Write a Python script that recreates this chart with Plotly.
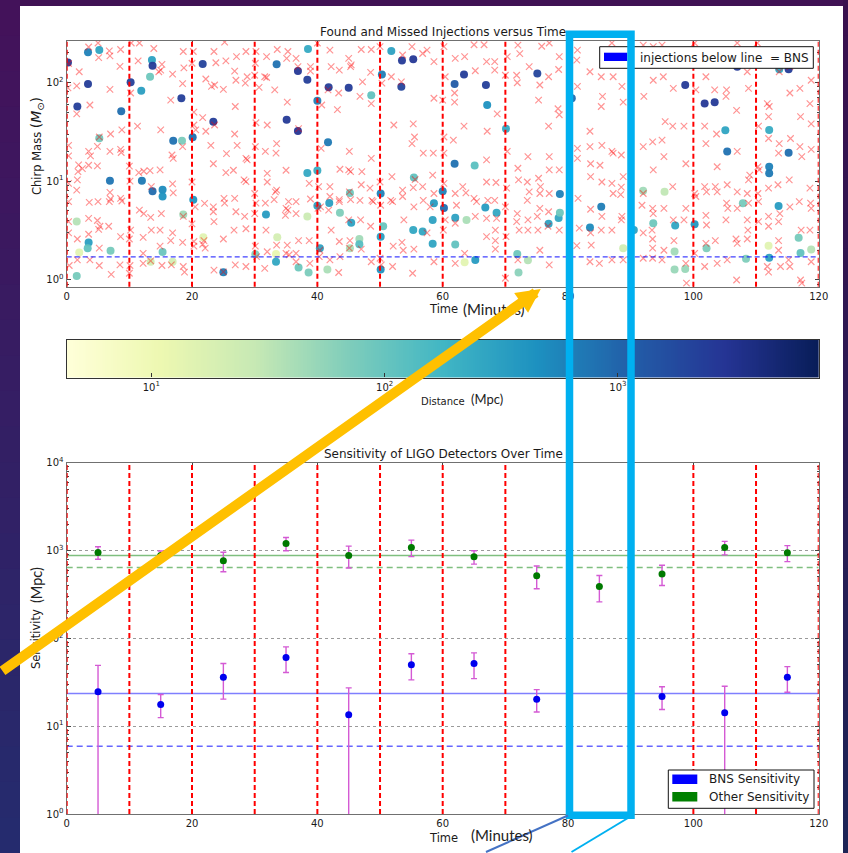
import numpy as np
import plotly.graph_objects as go

W, H = 848, 853

# ---------------------------------------------------------------- data
# found injections: (time [min], chirp mass [Msun], distance [Mpc])
found_points = [
    (0.2, 159, 2600), (1.7, 57, 2300), (3.4, 201, 600), (3.4, 96, 2400), (5.2, 212, 280),
    (13.6, 168, 300), (13.7, 147, 2500), (13.3, 114, 90), (10.2, 100, 2200), (11.9, 82, 320),
    (8.7, 51, 850), (18.3, 69, 2300), (21.7, 153, 2100), (23.4, 40, 2400), (20.1, 27.8, 900),
    (17.0, 25.7, 800), (18.4, 25.7, 75), (5.2, 27.1, 85), (6.9, 10.1, 750), (12.0, 10.1, 700),
    (13.7, 7.9, 900), (15.3, 8.2, 500), (15.3, 7.0, 420), (20.2, 6.5, 420), (1.6, 3.9, 35),
    (3.5, 2.4, 320), (3.35, 2.1, 110), (2.0, 1.9, 14), (7.0, 1.98, 80), (1.6, 1.1, 80),
    (15.3, 1.92, 95), (13.4, 1.53, 22), (16.9, 1.53, 20), (18.6, 4.6, 45), (21.8, 2.7, 15),
    (25.0, 1.2, 650), (30.1, 1.82, 70), (31.8, 4.6, 350), (33.6, 2.7, 20), (33.4, 1.83, 12),
    (33.4, 1.53, 260), (33.5, 152, 800), (35.1, 41.9, 2500), (36.9, 130, 2600), (36.9, 32.2, 2800),
    (38.5, 217, 240), (38.4, 106, 2300), (40.0, 65, 600), (41.8, 89, 2300), (41.7, 24.7, 700),
    (45.0, 88, 2400), (48.6, 74, 110), (50.3, 120, 650), (51.8, 207, 300), (53.5, 166, 2500),
    (55.3, 171, 2600), (53.4, 90, 2000), (38.4, 12.1, 250), (40.0, 12.8, 220), (40.0, 5.65, 300),
    (41.9, 6.0, 320), (38.4, 4.4, 25), (43.6, 4.8, 70), (45.2, 7.6, 90), (45.4, 3.8, 300),
    (50.1, 7.5, 600), (50.5, 3.5, 100), (55.4, 10.9, 110), (55.3, 3.2, 260), (56.8, 3.1, 260),
    (40.4, 2.1, 300), (46.7, 2.6, 45), (45.2, 2.1, 40), (46.7, 2.3, 130), (37.0, 1.34, 90),
    (38.6, 1.19, 75), (41.6, 1.28, 40), (50.1, 1.28, 450), (50.1, 2.74, 330),
    (63.4, 120, 2400), (61.9, 96, 1200), (66.9, 94, 2300), (67.1, 59, 450), (75.1, 123, 2000),
    (70.1, 34, 250), (61.9, 15.0, 800), (65.1, 14.4, 120), (60.0, 7.9, 600), (60.2, 5.35, 900),
    (58.6, 5.97, 350), (58.4, 4.05, 300), (58.4, 2.33, 280), (62.0, 4.27, 300), (62.0, 2.28, 110),
    (63.8, 4.05, 40), (65.2, 1.59, 350), (63.5, 1.51, 14), (66.8, 5.4, 350), (68.6, 4.8, 260),
    (71.9, 1.83, 90), (72.1, 1.19, 60), (73.6, 1.58, 35), (76.9, 3.7, 300), (78.5, 4.24, 260),
    (78.7, 4.8, 90), (78.7, 7.4, 600), (85.3, 5.5, 650), (83.5, 3.4, 500), (88.8, 2.1, 22),
    (91.98, 8.0, 45), (95.4, 7.8, 30), (93.6, 3.76, 90), (97.1, 3.55, 280), (97.0, 1.94, 45),
    (97.0, 1.28, 50), (98.7, 1.29, 50), (98.7, 94, 2500), (101.8, 61, 2600), (103.4, 62.8, 2500),
    (105.1, 32.7, 280), (105.4, 19.9, 800), (100.2, 3.66, 400), (102.1, 2.09, 70), (107.9, 5.97, 80),
    (108.4, 1.64, 70), (112.1, 33, 230), (112.1, 14.0, 600), (112.1, 12.0, 700), (115.2, 19.4, 850),
    (113.6, 5.6, 350), (112.0, 2.22, 15), (112.1, 1.68, 300), (116.8, 2.68, 80), (117.1, 1.88, 110),
    (118.8, 2.04, 35), (107.0, 144, 2500), (113.7, 136, 260), (115.2, 136, 2400), (80.6, 69, 900),
    (90.5, 3.2, 300),
]

# missed injections: (time [min], chirp mass [Msun])
missed_points = [
    (0.3, 155), (0.2, 88), (0.3, 23), (0.3, 18), (0.3, 9.5), (0.3, 6.2), (0.3, 3.9), (0.3, 3.0), (0.4, 1.4),
    (2.0, 128), (1.6, 48), (1.6, 92), (1.9, 14.6), (1.8, 12.5), (1.7, 10.3), (1.6, 8.1), (1.7, 2.6), (2.5, 13.4), (1.7, 1.6),
    (3.5, 228), (3.7, 59), (3.5, 20), (3.8, 18), (3.5, 14.5), (3.6, 6.1), (3.5, 4.2), (3.5, 2.9), (3.7, 1.6),
    (5.0, 250), (5.1, 178), (5.2, 28), (4.9, 22.5), (4.9, 14.3), (5.0, 6.2), (4.9, 4.0), (5.3, 3.5), (5.1, 3.25), (5.2, 2.1), (5.2, 1.4),
    (6.8, 208), (6.9, 185), (6.9, 85), (7.0, 30), (6.9, 20), (6.9, 7.7), (6.8, 6.2), (6.7, 3.5), (7.1, 1.14), (7.0, 6.6),
    (8.6, 215), (8.8, 33), (8.6, 21), (8.7, 19.5), (8.6, 6.7), (8.8, 6.3), (8.6, 2.75), (8.5, 1.42), (8.5, 145),
    (10.3, 250), (10.2, 78), (10.0, 14.2), (10.1, 10), (10.2, 3.2), (10.0, 2.6), (10.1, 1.4), (10.0, 1.17),
    (11.6, 250), (11.4, 165), (11.3, 36), (11.5, 12.2), (11.6, 5.1), (12.3, 4.7), (12.2, 2.7), (12.2, 1.86), (12.2, 1.47), (12.3, 12.6),
    (13.9, 220), (13.5, 8.8), (13.3, 12.8), (13.4, 4.3), (13.5, 3.2), (13.4, 1.56),
    (15.2, 152), (14.7, 128), (15.0, 133), (15.0, 33), (14.9, 13), (15.1, 4.7), (14.9, 3.2), (15.2, 1.4), (14.9, 2.2),
    (16.9, 121), (16.6, 66), (16.8, 18.4), (17.0, 17), (16.9, 9.4), (17.0, 7.6), (16.9, 3.0), (16.6, 2.5), (16.7, 1.42),
    (18.6, 205), (18.7, 140), (18.5, 97), (18.5, 22.4), (18.6, 4.4), (18.5, 2.4), (18.6, 1.37), (18.8, 1.2),
    (20.2, 205), (20.0, 156), (20.3, 50), (20.3, 37), (20.6, 33), (20.0, 9.8), (20.5, 5.5), (20.0, 3.7), (20.3, 2.45), (20.3, 2.2),
    (22.2, 108), (21.7, 44), (22.2, 32), (22.0, 5.95), (21.9, 2.5), (21.7, 2.3), (22.1, 2.1),
    (23.5, 205), (23.8, 158), (23.6, 94), (23.1, 91), (23.6, 37), (23.0, 23), (23.4, 15), (23.4, 5.5), (23.4, 4.9), (23.5, 3.9), (23.5, 1.26),
    (25.2, 255), (25.4, 165), (25.0, 85), (25.5, 19), (25.4, 12.2), (25.1, 6.7), (25.2, 6), (25.0, 2.6), (25.0, 1.21),
    (27.1, 182), (26.8, 130), (27.0, 105), (26.9, 57), (26.8, 30), (27.2, 23), (26.6, 12.9), (26.8, 6.7), (27.0, 4.9), (26.7, 3.2), (26.9, 1.42),
    (28.6, 205), (28.8, 114), (28.5, 98), (28.6, 17), (28.8, 16.4), (28.3, 10.3), (28.6, 9.9), (28.4, 4.4), (28.6, 3.3), (28.6, 1.37),
    (30.2, 205), (30.1, 156), (30.0, 118), (30.7, 89), (30.2, 39), (30.1, 22.4), (30.0, 7.5), (30.2, 6), (30.0, 4.7), (30.1, 2.2), (30.3, 1.72),
    (31.9, 182), (31.6, 114), (31.9, 112), (32.0, 37), (31.7, 20), (32.0, 12), (32.0, 9.8), (31.7, 6), (31.8, 3.2), (32.0, 1.93), (31.6, 1.31),
    (33.6, 215), (33.2, 84), (33.5, 24), (33.4, 19.2), (33.5, 8.1), (33.3, 7.8), (33.1, 6.5), (33.5, 2.25),
    (35.3, 205), (35.1, 175), (35.2, 63), (35.0, 12.9), (35.4, 6.2), (35.0, 5.3), (35.3, 5.1), (35.2, 2.25), (35.0, 1.86), (35.5, 1.8), (34.9, 4.5),
    (36.6, 175), (36.9, 144), (37.0, 34), (36.6, 6.2), (36.6, 4.7), (36.6, 1.86), (36.6, 1.53), (37.0, 2.5),
    (38.9, 144), (38.9, 130), (38.7, 9.5), (38.9, 6.6), (38.7, 2.5), (38.8, 1.47),
    (40.0, 250), (40.7, 59), (40.6, 21.5), (40.2, 8.8), (40.5, 5.5), (40.1, 5.3), (40.4, 2.0), (40.3, 1.72),
    (42.0, 212), (42.2, 144), (41.7, 84), (42.0, 8.8), (42.0, 7.0), (41.8, 5.1), (42.2, 3.2), (42.0, 1.6),
    (43.5, 133), (43.4, 78), (43.2, 53), (43.6, 13.2), (43.5, 6.5), (43.5, 6.2), (43.5, 2.45), (43.6, 1.72), (43.4, 1.19),
    (45.0, 175), (45.4, 150), (45.3, 144), (45.1, 20), (45.0, 13), (45.3, 12.5), (45.1, 7.8), (45.3, 6.5), (45.0, 4.05), (45.2, 2.5), (45.1, 2.1),
    (47.0, 215), (47.2, 101), (46.8, 72), (47.1, 12.5), (47.0, 9.2), (46.8, 6.4), (46.9, 4.05), (47.0, 2.05),
    (48.6, 215), (48.5, 126), (48.6, 61), (48.6, 17), (48.4, 8.5), (48.7, 6.4), (48.9, 6.2), (48.5, 3.5), (48.6, 1.53),
    (50.0, 230), (50.3, 98), (50.0, 9.8), (50.1, 5.7), (50.2, 1.42), (50.0, 1.66),
    (51.8, 114), (52.2, 37), (51.9, 11.1), (51.7, 6.4), (52.0, 6.2), (52.1, 2.2), (52.0, 1.37),
    (53.6, 189), (53.4, 101), (53.6, 8.1), (53.6, 7.0), (53.8, 4.05), (53.5, 2.4), (53.7, 2.0),
    (55.1, 230), (55.3, 38), (55.5, 28), (55.1, 24), (55.6, 10.4), (55.3, 8.6), (55.4, 5.5), (55.4, 2.05), (55.2, 1.17),
    (56.8, 196), (56.9, 19.2), (56.8, 8.8), (56.9, 6.4),
    (57.5, 212), (58.6, 162), (58.6, 69), (58.5, 19.2), (58.4, 11.5), (58.6, 7.5), (58.0, 5.5), (57.5, 3.0), (58.6, 1.53),
    (60.2, 230), (60.4, 114), (60.0, 66), (60.2, 28), (60.2, 19.2), (60.2, 9.5), (60.4, 4.05), (60.1, 3.2),
    (62.0, 175), (61.9, 78), (61.9, 63), (61.7, 26), (62.0, 7.5), (62.2, 5.7), (62.0, 3.75), (62.0, 1.47),
    (63.5, 182), (63.4, 36), (63.2, 8.8), (63.7, 7.6), (63.5, 1.86),
    (65.2, 131), (65.0, 6.7), (65.4, 6.2), (65.2, 4.4), (65.0, 240),
    (67.0, 162), (67.1, 32), (67.0, 16.4), (67.0, 9.8), (67.2, 6.4), (67.0, 4.2), (67.0, 2.75), (66.6, 240),
    (68.3, 162), (68.7, 48), (68.5, 9.7), (68.3, 6.4), (68.6, 4.2), (68.4, 3.2), (68.4, 2.5), (68.4, 2.05), (68.3, 133),
    (70.3, 182), (70.0, 118), (70.3, 20), (70.1, 2.75), (70.0, 1.04), (70.2, 8.5), (70.0, 5.5),
    (72.0, 238), (71.8, 118), (71.9, 99), (72.0, 13.5), (72.1, 10.3), (71.9, 4.7), (71.8, 3.9), (72.2, 3.2), (72.0, 1.6),
    (73.8, 144), (73.6, 17.7), (73.5, 9.8), (73.8, 7.8), (73.5, 6.4), (73.6, 4.05), (73.6, 3.2), (72.3, 195),
    (75.5, 94), (75.3, 66), (75.3, 10.7), (75.6, 8.8), (75.5, 7.5), (75.5, 5.3), (75.1, 4.4), (75.2, 3.2), (75.5, 2.0), (75.8, 232),
    (77.0, 250), (76.9, 114), (76.9, 36), (77.0, 17.7), (77.0, 13), (77.0, 7.5), (76.9, 4.9), (76.8, 3.5), (77.0, 1.42),
    (78.6, 182), (78.5, 135), (78.4, 54), (78.6, 47), (78.6, 13), (78.6, 3.2),
    (81.5, 212), (81.4, 168), (81.5, 91), (81.5, 21.5), (81.5, 17), (81.6, 6.7), (81.8, 3.35), (81.4, 2.23),
    (83.5, 128), (83.5, 32), (83.5, 22.4), (83.6, 15), (83.6, 11.1), (83.6, 5.2), (83.6, 3.0), (83.7, 2.25), (83.5, 1.53),
    (85.3, 114), (85.5, 72), (85.3, 57), (85.4, 23), (85.1, 14.5), (85.4, 9.8), (85.4, 4.4), (85.3, 3.2), (85.0, 1.47),
    (87.0, 250), (87.2, 114), (87.0, 20), (87.2, 19.2), (87.0, 9.5), (87.2, 7.5), (87.0, 3.2), (87.0, 1.6),
    (88.6, 91), (88.8, 63), (88.5, 18.4), (88.8, 11.1), (88.5, 8.7), (88.4, 7.3), (88.6, 4.4), (88.5, 4.05), (88.8, 1.6), (88.5, 150),
    (92.0, 238), (92.1, 72), (92.0, 22.4), (92.0, 7.5), (91.8, 5.7), (92.0, 3.0), (92.0, 1.66),
    (93.6, 230), (93.6, 105), (93.5, 25), (93.6, 13), (93.5, 5.3), (93.6, 4.7), (93.4, 3.2), (93.5, 2.6), (93.5, 2.1), (93.5, 1.66),
    (95.0, 238), (95.2, 114), (95.5, 40), (95.0, 26), (95.3, 17.7), (95.3, 5.3), (95.3, 2.0), (95.0, 1.6),
    (97.0, 196), (96.8, 87), (96.7, 36), (96.7, 8.8), (96.8, 4.05), (96.9, 2.5),
    (98.5, 36), (98.8, 15), (98.8, 5.3), (98.5, 4.05), (98.8, 1.47), (98.9, 0.93),
    (100.2, 250), (100.4, 84), (100.2, 7.5), (100.4, 7.0), (100.2, 1.86),
    (102.0, 114), (101.8, 36), (102.0, 24), (101.8, 8.8), (102.1, 7.8), (102.0, 4.5), (102.1, 3.6), (102.0, 2.35), (101.8, 1.37),
    (103.4, 84), (103.7, 30), (103.8, 14.0), (103.5, 8.8), (103.8, 7.8), (103.5, 2.5), (103.8, 1.47),
    (105.3, 84), (105.2, 72), (105.4, 9.2), (105.3, 6), (105.5, 5.3), (105.2, 4.05), (105.4, 1.6),
    (107.0, 250), (106.9, 52), (107.0, 20), (107.0, 7.8), (107.0, 5.3), (106.8, 2.6), (107.0, 2.35), (106.9, 1.0),
    (108.6, 128), (108.8, 87), (109.0, 11.5), (108.8, 10.3), (108.6, 7.5), (108.8, 6), (108.6, 4.05), (108.7, 3.2), (108.6, 2.6),
    (110.2, 250), (110.4, 36), (110.3, 14), (110.5, 13), (110.3, 7.5), (110.4, 6.2), (110.4, 3.9),
    (111.8, 61), (112.1, 57), (112.0, 45), (112.0, 27), (112.0, 8.5), (112.0, 4.4), (112.0, 3.5), (111.8, 1.37), (112.0, 1.2),
    (113.7, 128), (113.7, 24), (113.6, 19.2), (113.5, 9.2), (113.8, 4.7), (113.6, 3.9), (113.6, 2.5), (113.6, 2.0), (113.9, 1.37),
    (115.4, 144), (115.4, 78), (115.5, 27), (115.3, 10.3), (115.4, 5.5), (115.4, 1.37), (115.2, 1.6),
    (117.0, 87), (117.1, 45), (117.0, 22.4), (117.3, 17.7), (116.9, 6.2), (117.2, 3.2), (117.1, 1.0), (117.3, 0.93),
    (118.8, 105), (118.6, 61), (118.8, 38), (118.8, 21), (118.6, 8.5), (118.7, 6), (118.8, 5.3), (118.6, 3.2), (118.8, 1.53),
]

bns_mchirp_line = 1.71

time_bins = [5, 15, 25, 35, 45, 55, 65, 75, 85, 95, 105, 115]
other_sensitivity = [949, 877, 764, 1201, 877, 1082, 848, 517, 390, 540, 1082, 942]
other_error = [155, 110, 190, 205, 245, 230, 148, 150, 130, 140, 190, 195]
bns_sensitivity = [24.6, 17.7, 36.0, 60.4, 13.5, 50.2, 51.6, 20.3, None, 21.8, 14.2, 36.0]
bns_error = [24.7, 5.2, 15.7, 19.6, 13.8, 16.5, 16.8, 5.8, None, 6.3, 14.3, 11.7]
other_level, other_floor = 877, 640
bns_level, bns_floor = 23.5, 5.9

time_ticks = [0, 20, 40, 60, 80, 100, 120]
segment_edges = [0, 10, 20, 30, 40, 50, 60, 70, 80, 90, 100, 110, 120]
mass_range = (0.855, 262)
mass_ticks = [1, 10, 100]
mass_ticktext = ["10<sup>0</sup>", "10<sup>1</sup>", "10<sup>2</sup>"]
sens_range = (1, 10000)
sens_ticks = [1, 10, 100, 1000, 10000]
sens_ticktext = ["10<sup>0</sup>", "10<sup>1</sup>", "10<sup>2</sup>", "10<sup>3</sup>", "10<sup>4</sup>"]
dist_range = (4.34, 7250)
dist_ticks = [10, 100, 1000]
dist_ticktext = ["10<sup>1</sup>", "10<sup>2</sup>", "10<sup>3</sup>"]

# ---------------------------------------------------------------- styling
MPL_FONT = "DejaVu Sans"
SLIDE_FONT = "Lato"
TEXT = "#1a1a1a"
SPINE = "#707070"
TICK = "#444444"
RED = "#ff0000"
YLGNBU = [[0.0, "#ffffd9"], [0.125, "#edf8b1"], [0.25, "#c7e9b4"], [0.375, "#7fcdbb"],
          [0.5, "#41b6c4"], [0.625, "#1d91c0"], [0.75, "#225ea8"], [0.875, "#253494"],
          [1.0, "#081d58"]]


def fx(px):
    return px / W


def fy(py):
    return 1 - py / H


def minor_log(lo_dec, hi_dec):
    return [m * 10 ** d for d in range(lo_dec, hi_dec) for m in range(2, 10)]


fig = go.Figure()

# ---------------- top panel: found / missed injections
lo_d, hi_d = np.log10(dist_range[0]), np.log10(dist_range[1])
ft, fm, fd = zip(*found_points)
fig.add_trace(go.Scatter(
    x=ft, y=fm, mode="markers", xaxis="x", yaxis="y", hoverinfo="skip",
    marker=dict(size=8, color=np.log10(fd), colorscale=YLGNBU, cmin=lo_d, cmax=hi_d,
                line=dict(width=0), opacity=0.95)))
mt, mm = zip(*missed_points)
fig.add_trace(go.Scatter(
    x=mt, y=mm, mode="markers", xaxis="x", yaxis="y", hoverinfo="skip",
    marker=dict(symbol="x-thin", size=6.5, line=dict(width=1.2, color="rgba(255,0,0,0.42)"))))
fig.add_trace(go.Scatter(
    x=[0, 120], y=[bns_mchirp_line] * 2, mode="lines", xaxis="x", yaxis="y", hoverinfo="skip",
    line=dict(color="rgba(0,0,255,0.75)", width=1.2, dash="5px,3px")))

# ---------------- distance colour bar
grad = np.linspace(lo_d, hi_d, 400)
fig.add_trace(go.Heatmap(
    x=grad, y=[0], z=[grad], colorscale=YLGNBU, zmin=lo_d, zmax=hi_d, showscale=False,
    xaxis="x3", yaxis="y3", hoverinfo="skip"))

# ---------------- bottom panel: sensitivity
for level, dash, col in [(other_level, "solid", "rgba(0,128,0,0.5)"),
                         (other_floor, "6px,4px", "rgba(0,128,0,0.5)"),
                         (bns_level, "solid", "rgba(0,0,255,0.5)"),
                         (bns_floor, "6px,4px", "rgba(0,0,255,0.6)")]:
    fig.add_trace(go.Scatter(x=[0, 120], y=[level, level], mode="lines", xaxis="x2", yaxis="y2",
                             hoverinfo="skip", line=dict(color=col, width=1.5, dash=dash)))

ERR = "#d45ad4"
fig.add_trace(go.Scatter(
    x=time_bins, y=other_sensitivity, mode="markers", xaxis="x2", yaxis="y2", hoverinfo="skip",
    marker=dict(size=7, color="#007a00"),
    error_y=dict(type="data", array=other_error, color=ERR, thickness=1.4, width=3)))
bt = [t for t, v in zip(time_bins, bns_sensitivity) if v is not None]
bv = [v for v in bns_sensitivity if v is not None]
be = [e for e in bns_error if e is not None]
fig.add_trace(go.Scatter(
    x=bt, y=bv, mode="markers", xaxis="x2", yaxis="y2", hoverinfo="skip",
    marker=dict(size=7, color="#0000ee"),
    error_y=dict(type="data", array=be, color=ERR, thickness=1.4, width=3)))

# ---------------------------------------------------------------- axes
axis_common = dict(showline=True, linecolor=SPINE, linewidth=1.3, mirror="allticks",
                   ticks="inside", ticklen=4, tickwidth=1, tickcolor=TICK,
                   showgrid=False, zeroline=False, automargin=False,
                   tickfont=dict(family=MPL_FONT, size=10, color=TEXT))
x_dom = [fx(66.7), fx(818.7)]

layout_axes = dict(
    xaxis=dict(axis_common, domain=x_dom, anchor="y", range=[0, 120],
               tickmode="array", tickvals=time_ticks),
    yaxis=dict(axis_common, domain=[fy(286.7), fy(41)], anchor="x", type="log",
               range=[np.log10(mass_range[0]), np.log10(mass_range[1])],
               tickmode="array", tickvals=mass_ticks, ticktext=mass_ticktext,
               minor=dict(tickmode="array", tickvals=minor_log(-1, 3), ticks="inside",
                          ticklen=2, tickcolor=TICK)),
    xaxis2=dict(axis_common, domain=x_dom, anchor="y2", range=[0, 120],
                tickmode="array", tickvals=time_ticks),
    yaxis2=dict(axis_common, domain=[fy(814), fy(462.7)], anchor="x2", type="log",
                range=[np.log10(sens_range[0]), np.log10(sens_range[1])],
                tickmode="array", tickvals=sens_ticks, ticktext=sens_ticktext,
                showgrid=True, gridcolor="#9a9a9a", griddash="dot", gridwidth=1,
                minor=dict(tickmode="array", tickvals=minor_log(0, 4), ticks="inside",
                           ticklen=2, tickcolor=TICK)),
    xaxis3=dict(domain=x_dom, anchor="y3", range=[lo_d, hi_d], showline=True, mirror=True,
                linecolor="#333333", linewidth=1.2, ticks="inside", ticklen=4, tickcolor="#333333",
                tickmode="array", tickvals=np.log10(dist_ticks), ticktext=dist_ticktext,
                showgrid=False, zeroline=False, automargin=False,
                tickfont=dict(family=MPL_FONT, size=10, color=TEXT)),
    yaxis3=dict(domain=[fy(377.5), fy(340)], anchor="x3", range=[-0.5, 0.5], showline=True,
                mirror=True, linecolor="#333333", linewidth=1.2, ticks="", automargin=False,
                showticklabels=False, showgrid=False, zeroline=False),
)

# ---------------------------------------------------------------- shapes
shapes = []


def rect(x0, y0, x1, y1, fill, line_col=None, lw=0, layer="below"):
    return dict(type="rect", xref="paper", yref="paper", x0=fx(x0), x1=fx(x1),
                y0=fy(y1), y1=fy(y0), fillcolor=fill, layer=layer,
                line=dict(color=line_col or fill, width=lw))


def blend(c0, c1, t):
    return "rgb(%d,%d,%d)" % tuple(round(a + (b - a) * t) for a, b in zip(c0, c1))


# slide backdrop around the white panel
n_band = 24
for i in range(n_band):
    y0, y1 = H * i / n_band, min(H, H * (i + 1) / n_band + 1)
    t = (i + 0.5) / n_band
    shapes.append(rect(0, y0, 20, y1, blend((68, 17, 90), (36, 44, 110), t)))
    shapes.append(rect(843, y0, W, y1, blend((58, 16, 78), (28, 36, 86), t)))
shapes.append(rect(20, 6, 843, H, "white"))

# time-segment boundaries
for t in segment_edges:
    for xr, yr in [("x", "y domain"), ("x2", "y2 domain")]:
        shapes.append(dict(type="line", xref=xr, yref=yr, x0=t, x1=t, y0=0, y1=1, layer="above",
                           line=dict(color=RED, width=2, dash="5px,3px")))

# legends
shapes.append(rect(599.7, 46.7, 813.3, 68.3, "white", "#111111", 1, "above"))
shapes.append(rect(604, 52.7, 627.3, 61, "#0000ff", layer="above"))
shapes.append(rect(668.3, 770, 814, 808.3, "white", "#111111", 1, "above"))
shapes.append(rect(672.3, 774.5, 697.3, 784, "#0000ff", layer="above"))
shapes.append(rect(672.3, 792, 697.3, 801.5, "#008000", layer="above"))

# highlight box around the 80-90 minute segment
shapes.append(dict(type="rect", xref="paper", yref="paper", layer="above",
                   x0=fx(569.5), x1=fx(631), y0=fy(815.3), y1=fy(34.3),
                   line=dict(color="#00b0f0", width=7.5), fillcolor="rgba(0,0,0,0)"))
shapes.append(dict(type="line", xref="paper", yref="paper", layer="above",
                   x0=fx(568), y0=fy(815.5), x1=fx(486), y1=fy(852),
                   line=dict(color="#4472c4", width=2)))
shapes.append(dict(type="line", xref="paper", yref="paper", layer="above",
                   x0=fx(628), y0=fy(818), x1=fx(571.5), y1=fy(852),
                   line=dict(color="#00b0f0", width=2)))

# ---------------------------------------------------------------- text
ann = []


def label(text, px, py, size, family=MPL_FONT, angle=0, xanchor="center", color=TEXT):
    ann.append(dict(text=text, x=fx(px), y=fy(py), xref="paper", yref="paper", showarrow=False,
                    font=dict(family=family, size=size, color=color), textangle=angle,
                    xanchor=xanchor, yanchor="middle"))


label("Found and Missed Injections versus Time", 443, 32.3, 12)
label("Sensitivity of LIGO Detectors Over Time", 443, 454, 12)
label("Time", 443, 309.3, 11.5)
label("Time", 443, 837.7, 11.5)
label("Chirp Mass <span style='font-size:14px'>(<i>M</i><sub>⊙</sub>)</span>", 37, 146, 11.5,
      angle=-90)
label("Sensitivity", 36, 639, 11.5, angle=-90)
label("Distance", 443, 401.7, 10)
label("injections below line\u00a0 = BNS", 638, 57.5, 12, xanchor="left")
label("BNS Sensitivity", 706.7, 779.3, 12, xanchor="left")
label("Other Sensitivity", 706.7, 796.9, 12, xanchor="left")

label("(Minutes)", 461, 309, 15, family=SLIDE_FONT, xanchor="left", color="#222222")
label("(Mpc)", 469, 399, 13, family=SLIDE_FONT, xanchor="left", color="#222222")
label("(Mpc)", 36, 585, 14.5, family=SLIDE_FONT, angle=-90, color="#222222")
label("(Minutes)", 469, 835, 15, family=SLIDE_FONT, xanchor="left", color="#222222")

# pointer arrow from the lower left towards the time axis
tip_x, tip_y = 540.7, 289
tail_x, tail_y = 1, 672
ann.append(dict(text="", x=fx(tip_x), y=fy(tip_y), xref="paper", yref="paper",
                showarrow=True, arrowhead=2, arrowsize=0.48, arrowwidth=10,
                arrowcolor="#ffc000", ax=tail_x - tip_x, ay=tail_y - tip_y, standoff=0))

fig.update_layout(
    template="none",
    width=W, height=H, autosize=False,
    margin=dict(l=0, r=0, t=0, b=0, pad=0, autoexpand=False),
    paper_bgcolor="#3f1154", plot_bgcolor="white",
    showlegend=False, hovermode=False,
    font=dict(family=MPL_FONT, color=TEXT),
    shapes=shapes, annotations=ann,
    **layout_axes,
)

fig.write_html("out.html")
